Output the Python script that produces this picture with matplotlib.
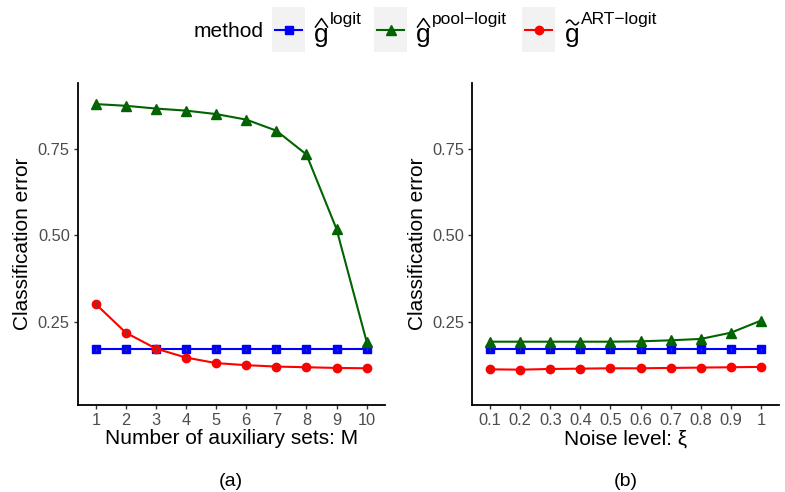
import numpy as np
import matplotlib
matplotlib.use('Agg')
import matplotlib.pyplot as plt
from matplotlib.patches import Rectangle
from matplotlib.lines import Line2D

plt.rcParams['font.family'] = ['Liberation Sans', 'DejaVu Sans']

# ---------------- data ----------------
m_labels = ['1', '2', '3', '4', '5', '6', '7', '8', '9', '10']
logit_a = [0.170, 0.170, 0.170, 0.170, 0.170, 0.170, 0.170, 0.170, 0.170, 0.170]
pool_a = [0.880, 0.875, 0.867, 0.861, 0.851, 0.835, 0.803, 0.734, 0.518, 0.192]
art_a = [0.301, 0.218, 0.172, 0.146, 0.130, 0.124, 0.120, 0.118, 0.116, 0.115]
logit_a_err = [0.004, 0.004, 0.004, 0.004, 0.004, 0.004, 0.004, 0.004, 0.004, 0.004]
pool_a_err = [0.003, 0.003, 0.003, 0.003, 0.003, 0.003, 0.004, 0.005, 0.006, 0.005]
art_a_err = [0.012, 0.008, 0.005, 0.004, 0.003, 0.003, 0.003, 0.003, 0.003, 0.003]

xi_labels = ['0.1', '0.2', '0.3', '0.4', '0.5', '0.6', '0.7', '0.8', '0.9', '1']
logit_b = [0.170, 0.170, 0.170, 0.170, 0.170, 0.170, 0.170, 0.170, 0.170, 0.170]
pool_b = [0.192, 0.192, 0.192, 0.192, 0.192, 0.193, 0.196, 0.200, 0.218, 0.253]
art_b = [0.112, 0.111, 0.113, 0.114, 0.115, 0.115, 0.116, 0.117, 0.118, 0.119]
logit_b_err = [0.004, 0.004, 0.004, 0.004, 0.004, 0.004, 0.004, 0.004, 0.004, 0.004]
pool_b_err = [0.004, 0.004, 0.004, 0.004, 0.004, 0.004, 0.004, 0.004, 0.005, 0.006]
art_b_err = [0.003, 0.003, 0.003, 0.003, 0.003, 0.003, 0.003, 0.003, 0.003, 0.003]

yticks = [0.25, 0.50, 0.75]
ytick_labels = ['0.25', '0.50', '0.75']

methods = ['logit', 'pool', 'ART']
colors = {'logit': '#0000FF', 'pool': '#006400', 'ART': '#FF0000'}
markers = {'logit': 's', 'pool': '^', 'ART': 'o'}
msizes = {'logit': 6.0, 'pool': 6.5, 'ART': 6.0}
legend_sup = {'logit': 'logit', 'pool': 'pool\u2212logit', 'ART': 'ART\u2212logit'}
legend_accent = {'logit': 'hat', 'pool': 'hat', 'ART': 'tilde'}

W, H = 785, 492
fig = plt.figure(figsize=(W / 100, H / 100), dpi=100)


def px(x, y):
    return x / W, 1 - y / H


def panel(rect, labels, series, errs, xlabel, tag):
    ax = fig.add_axes(rect)
    xs = list(range(1, len(labels) + 1))
    for key in methods:
        ax.plot(xs, series[key], color=colors[key], lw=1.5, marker=markers[key],
                ms=msizes[key], mec=colors[key], mfc=colors[key], zorder=3)
        ax.errorbar(xs, series[key], yerr=errs[key], fmt='none', ecolor='#555555',
                    elinewidth=0.8, alpha=0.6, capsize=0, zorder=4)
    ax.set_xlim(0.4, len(labels) + 0.6)
    ax.set_ylim(0.0087, 0.941)
    ax.set_xticks(xs)
    ax.set_xticklabels(labels)
    ax.set_yticks(yticks)
    ax.set_yticklabels(ytick_labels)
    for s in ['top', 'right']:
        ax.spines[s].set_visible(False)
    for s in ['left', 'bottom']:
        ax.spines[s].set_linewidth(1.3)
        ax.spines[s].set_color('black')
    ax.tick_params(axis='both', colors='#333333', labelcolor='#4D4D4D',
                   labelsize=11.8, length=3.2, width=1, pad=2.5)
    ax.set_xlabel(xlabel, fontsize=15, color='black', labelpad=1)
    ax.set_ylabel('Classification error', fontsize=15, color='black', labelpad=4)
    cx = rect[0] + rect[2] / 2
    fig.text(cx, px(0, 481)[1], tag, ha='center', va='center', fontsize=14)
    return ax


rect_a = [77.7 / W, 1 - 405 / H, 307 / W, 322 / H]
rect_b = [472 / W, 1 - 405 / H, 307 / W, 322 / H]
panel(rect_a, m_labels, {'logit': logit_a, 'pool': pool_a, 'ART': art_a},
      {'logit': logit_a_err, 'pool': pool_a_err, 'ART': art_a_err},
      'Number of auxiliary sets: M', '(a)')
panel(rect_b, xi_labels, {'logit': logit_b, 'pool': pool_b, 'ART': art_b},
      {'logit': logit_b_err, 'pool': pool_b_err, 'ART': art_b_err},
      'Noise level: ξ', '(b)')

# ---------------- legend (manual, ggplot style) ----------------
fig.text(*px(194, 37), 'method', ha='left', va='baseline', fontsize=15)
key_x = {'logit': 272, 'pool': 374, 'ART': 522}
lab_x = {'logit': 314, 'pool': 416, 'ART': 565}
for key in methods:
    x0 = key_x[key]
    fx, fy = px(x0, 52)
    fig.patches.append(Rectangle((fx, fy), 33 / W, 45 / H, facecolor='#F2F2F2',
                                 edgecolor='none', transform=fig.transFigure, zorder=1))
    lx0, ly = px(x0 + 3, 30)
    lx1, _ = px(x0 + 30, 30)
    fig.lines.append(Line2D([lx0, lx1], [ly, ly], color=colors[key], lw=1.5,
                            transform=fig.transFigure, zorder=2))
    mx, _ = px(x0 + 16.5, 30)
    fig.lines.append(Line2D([mx], [ly], color=colors[key], marker=markers[key],
                            ms=msizes[key], lw=0, transform=fig.transFigure, zorder=3))
    gx = lab_x[key]
    fig.text(*px(gx, 42), 'g', ha='left', va='baseline', fontsize=19)
    if legend_accent[key] == 'hat':
        pts = [(gx + 1.5, 27), (gx + 7.5, 18.5), (gx + 13.5, 27)]
    else:
        t = np.linspace(0, 1, 40)
        pts = [(gx + 1.5 + 12 * s, 22.5 - 2.3 * np.sin(2 * np.pi * s)) for s in t]
    hx = [px(a, b)[0] for a, b in pts]
    hy = [px(a, b)[1] for a, b in pts]
    fig.lines.append(Line2D(hx, hy, color='black', lw=1.1,
                            transform=fig.transFigure, zorder=3))
    fig.text(*px(gx + 16, 24), legend_sup[key], ha='left', va='baseline',
             fontsize=12.5)

fig.savefig('out.png', dpi=100)
